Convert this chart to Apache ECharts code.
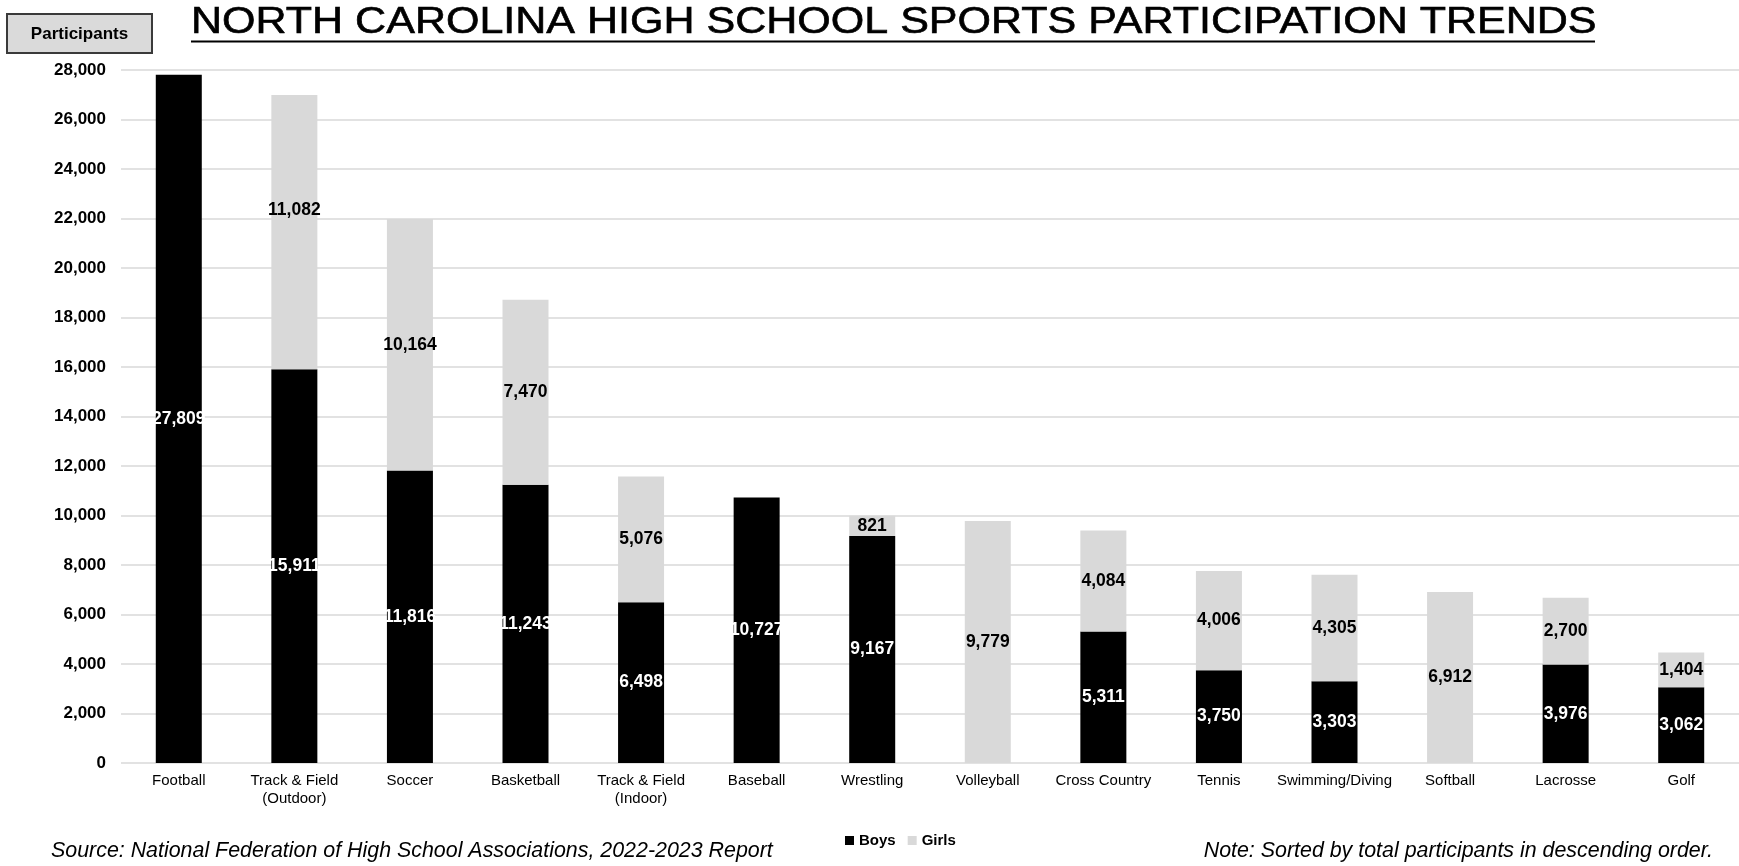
<!DOCTYPE html>
<html>
<head>
<meta charset="utf-8">
<title>North Carolina High School Sports Participation Trends</title>
<script src="https://cdn.jsdelivr.net/npm/echarts@6/dist/echarts.min.js"></script>
<style>
  html, body { margin: 0; padding: 0; background: #fff; }
  #chart { width: 1739px; height: 866px; }
</style>
</head>
<body>
<div id="chart"></div>
<script>
// Sports, sorted by total participants (descending)
const sports = [
  'Football', 'Track & Field\n(Outdoor)', 'Soccer', 'Basketball', 'Track & Field\n(Indoor)',
  'Baseball', 'Wrestling', 'Volleyball', 'Cross Country', 'Tennis',
  'Swimming/Diving', 'Softball', 'Lacrosse', 'Golf'
];
// Participants per sport (null = no team of that gender)
const boys  = [27809, 15911, 11816, 11243, 6498, 10727, 9167, null, 5311, 3750, 3303, null, 3976, 3062];
const girls = [null, 11082, 10164, 7470, 5076, null, 821, 9779, 4084, 4006, 4305, 6912, 2700, 1404];

const yTicks = { min: 0, max: 28000, step: 2000 };

const titleText = 'NORTH CAROLINA HIGH SCHOOL SPORTS PARTICIPATION TRENDS';
const sourceText = 'Source: National Federation of High School Associations, 2022-2023 Report';
const noteText = 'Note: Sorted by total participants in descending order.';

const FONT = '"Liberation Sans", Arial, Helvetica, sans-serif';
const fmt = v => v.toLocaleString('en-US');

// Label lifted for the outdoor track girls segment
const girlsLabelNudge = { 1: -22 };

const chart = echarts.init(document.getElementById('chart'), null, { renderer: 'canvas' });

function labelStyle(color) {
  return {
    show: true,
    position: 'inside',
    color: color,
    fontFamily: FONT,
    fontSize: 17.5,
    fontWeight: 'bold',
    formatter: p => (p.value == null ? '' : fmt(p.value))
  };
}

chart.setOption({
  backgroundColor: '#ffffff',
  animation: false,
  textStyle: { fontFamily: FONT },
  grid: { left: 121, right: 0, top: 70, bottom: 103, containLabel: false },
  legend: {
    data: ['Boys', 'Girls'],
    left: 840,
    top: 828,
    icon: 'rect',
    itemWidth: 9,
    itemHeight: 9,
    itemGap: 12,
    textStyle: { fontFamily: FONT, fontSize: 15, fontWeight: 'bold', color: '#000' }
  },
  xAxis: {
    type: 'category',
    data: sports,
    axisLine: { show: false },
    axisTick: { show: false },
    axisLabel: {
      color: '#000',
      fontFamily: FONT,
      fontSize: 15,
      lineHeight: 18,
      margin: 9,
      interval: 0
    }
  },
  yAxis: {
    type: 'value',
    min: yTicks.min,
    max: yTicks.max,
    interval: yTicks.step,
    axisLine: { show: false },
    axisTick: { show: false },
    axisLabel: {
      color: '#000',
      fontFamily: FONT,
      fontSize: 17,
      fontWeight: 'bold',
      margin: 15,
      formatter: v => fmt(v)
    },
    splitLine: { lineStyle: { color: '#d9d9d9', width: 1.5 } }
  },
  series: [
    {
      name: 'Boys',
      type: 'bar',
      stack: 'total',
      barWidth: 46,
      itemStyle: { color: '#000000' },
      label: labelStyle('#ffffff'),
      data: boys
    },
    {
      name: 'Girls',
      type: 'bar',
      stack: 'total',
      barWidth: 46,
      itemStyle: { color: '#d9d9d9' },
      label: labelStyle('#000000'),
      data: girls.map((v, i) =>
        girlsLabelNudge[i] != null ? { value: v, label: { offset: [0, girlsLabelNudge[i]] } } : v)
    }
  ],
  graphic: [
    // "Participants" header box
    {
      type: 'rect',
      shape: { x: 7, y: 14, width: 145, height: 39 },
      style: { fill: '#dadada', stroke: '#3a3a3a', lineWidth: 2 }
    },
    {
      type: 'text',
      x: 79.5, y: 34,
      style: {
        text: 'Participants',
        fill: '#000',
        font: 'bold 17px ' + FONT,
        align: 'center',
        verticalAlign: 'middle'
      }
    },
    // Title, set wide and underlined
    {
      type: 'text',
      x: 191, y: 23,
      scaleX: 1.195,
      style: {
        x: 0, y: 0,
        text: titleText,
        fill: '#000',
        stroke: '#000',
        lineWidth: 0.6,
        font: '36px ' + FONT,
        align: 'left',
        verticalAlign: 'middle'
      }
    },
    {
      type: 'line',
      shape: { x1: 191, y1: 41.5, x2: 1595, y2: 41.5 },
      style: { stroke: '#000', lineWidth: 2 }
    },
    // Footer notes
    {
      type: 'text',
      x: 51, y: 851,
      style: {
        text: sourceText,
        fill: '#000',
        font: 'italic 21.4px ' + FONT,
        align: 'left',
        verticalAlign: 'middle'
      }
    },
    {
      type: 'text',
      x: 1713, y: 851,
      style: {
        text: noteText,
        fill: '#000',
        font: 'italic 21.4px ' + FONT,
        align: 'right',
        verticalAlign: 'middle'
      }
    }
  ]
});
</script>
</body>
</html>
